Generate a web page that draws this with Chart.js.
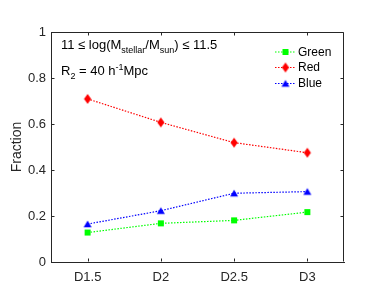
<!DOCTYPE html>
<html><head><meta charset="utf-8">
<script src="https://cdn.jsdelivr.net/npm/chart.js@4"></script>
<style>html,body{margin:0;padding:0;background:#fff}#w{width:382px;height:305px}</style>
</head><body><div id="w"><canvas id="c" width="382" height="305"></canvas></div>
<script>
const categories = ['D1.5', 'D2', 'D2.5', 'D3'];
const greenValues = [0.128, 0.168, 0.181, 0.217];
const redValues = [0.709, 0.607, 0.519, 0.475];
const blueValues = [0.165, 0.223, 0.299, 0.306];
const yTickValues = [0, 0.2, 0.4, 0.6, 0.8, 1];
const seriesNames = ['Green', 'Red', 'Blue'];

const AX = '#262626';
const FONT = 'Liberation Sans, Arial, Helvetica, sans-serif';

function marker(shape, color) {
  const c = document.createElement('canvas');
  c.width = 12; c.height = 12;
  const g = c.getContext('2d');
  g.fillStyle = color;
  g.beginPath();
  if (shape === 'square') { g.rect(3, 3, 6, 6); }
  else if (shape === 'diamond') { g.moveTo(6, 1); g.lineTo(9.6, 6); g.lineTo(6, 11); g.lineTo(2.4, 6); g.closePath(); }
  else { g.moveTo(6, 2.5); g.lineTo(10, 9.3); g.lineTo(2, 9.3); g.closePath(); }
  g.fill();
  return c;
}
const mk = [marker('square', '#00ff00'), marker('diamond', '#ff0000'), marker('triangle', '#0000ff')];
const cols = ['#00ff00', '#ff0000', '#0000ff'];
const dash = [1.5, 1.5];

function ds(label, data, i) {
  return { label, data, borderColor: cols[i], backgroundColor: cols[i], borderWidth: 1.2,
    borderDash: dash, pointStyle: mk[i], pointRadius: 4, pointHoverRadius: 4, tension: 0, fill: false };
}

function drawRich(ctx, x, y, parts) {
  for (const p of parts) {
    ctx.font = p.size + 'px ' + FONT;
    ctx.fillText(p.t, x, y + (p.dy || 0));
    x += ctx.measureText(p.t).width;
  }
}

const framePlugin = {
  id: 'frame',
  afterDraw(chart) {
    const ctx = chart.ctx, a = chart.chartArea;
    const xs = chart.scales.x, ys = chart.scales.y;
    ctx.save();
    ctx.strokeStyle = AX; ctx.lineWidth = 1;
    ctx.beginPath();
    const L = Math.round(a.left) + 0.5, R = Math.round(a.right) - 0.5, T = Math.round(a.top) + 0.5, B = Math.round(a.bottom) - 0.5;
    ctx.moveTo(L, T); ctx.lineTo(R, T); ctx.lineTo(R, B);
    const tl = 3;
    categories.forEach((c, i) => {
      const px = Math.round(xs.getPixelForValue(i)) + 0.5;
      ctx.moveTo(px, B); ctx.lineTo(px, B - tl);
      ctx.moveTo(px, T); ctx.lineTo(px, T + tl);
    });
    yTickValues.forEach(v => {
      const py = Math.round(ys.getPixelForValue(v)) + 0.5;
      ctx.moveTo(L, py); ctx.lineTo(L + tl, py);
      ctx.moveTo(R, py); ctx.lineTo(R - tl, py);
    });
    ctx.stroke();

    // annotations
    ctx.fillStyle = '#000';
    ctx.textBaseline = 'alphabetic';
    ctx.textAlign = 'left';
    drawRich(ctx, 61, 49, [
      { t: '11 \u2264 log(M', size: 13 }, { t: 'stellar', size: 9, dy: 4 },
      { t: '/M', size: 13 }, { t: 'sun', size: 9, dy: 4 }, { t: ') \u2264 11.5', size: 13 }]);
    drawRich(ctx, 61, 75, [
      { t: 'R', size: 13 }, { t: '2', size: 9, dy: 4 }, { t: ' = 40 h', size: 13 },
      { t: '-1', size: 9, dy: -5 }, { t: 'Mpc', size: 13 }]);

    // legend
    const ly = [52, 67.5, 83.5];
    seriesNames.forEach((n, i) => {
      ctx.strokeStyle = cols[i]; ctx.lineWidth = 1.2; ctx.setLineDash(dash);
      ctx.beginPath(); ctx.moveTo(275, ly[i]); ctx.lineTo(296, ly[i]); ctx.stroke();
      ctx.setLineDash([]);
      ctx.drawImage(mk[i], 285.5 - 6, ly[i] - 6);
      ctx.fillStyle = '#000';
      ctx.font = '12px ' + FONT;
      ctx.textBaseline = 'middle';
      ctx.fillText(n, 298, ly[i] + 0.5);
    });
    ctx.restore();
  }
};

new Chart(document.getElementById('c'), {
  type: 'line',
  data: { labels: categories, datasets: [ds(seriesNames[0], greenValues, 0), ds(seriesNames[1], redValues, 1), ds(seriesNames[2], blueValues, 2)] },
  options: {
    responsive: false, animation: false, devicePixelRatio: 1,
    layout: { padding: { left: 0, top: 32, right: 38, bottom: 0 } },
    plugins: { legend: { display: false }, tooltip: { enabled: false } },
    scales: {
      x: {
        type: 'category', offset: true,
        grid: { display: true, drawOnChartArea: false, drawTicks: false },
        border: { display: true, color: AX, width: 1 },
        ticks: { color: AX, font: { family: FONT, size: 13 }, padding: 8, maxRotation: 0 },
        afterFit(s) { s.height = 43; }
      },
      y: {
        min: 0, max: 1,
        afterBuildTicks(s) { s.ticks = yTickValues.map(v => ({ value: v })); },
        grid: { display: true, drawOnChartArea: false, drawTicks: false },
        border: { display: true, color: AX, width: 1 },
        ticks: { color: AX, font: { family: FONT, size: 13 }, padding: 5,
          callback: v => (v === 0 ? '0' : v === 1 ? '1' : v.toFixed(1)) },
        title: { display: true, text: 'Fraction', color: AX, font: { family: FONT, size: 14 }, padding: { top: 9, bottom: 0 } },
        afterFit(s) { s.width = 51; }
      }
    }
  },
  plugins: [framePlugin]
});
</script>
</body></html>
